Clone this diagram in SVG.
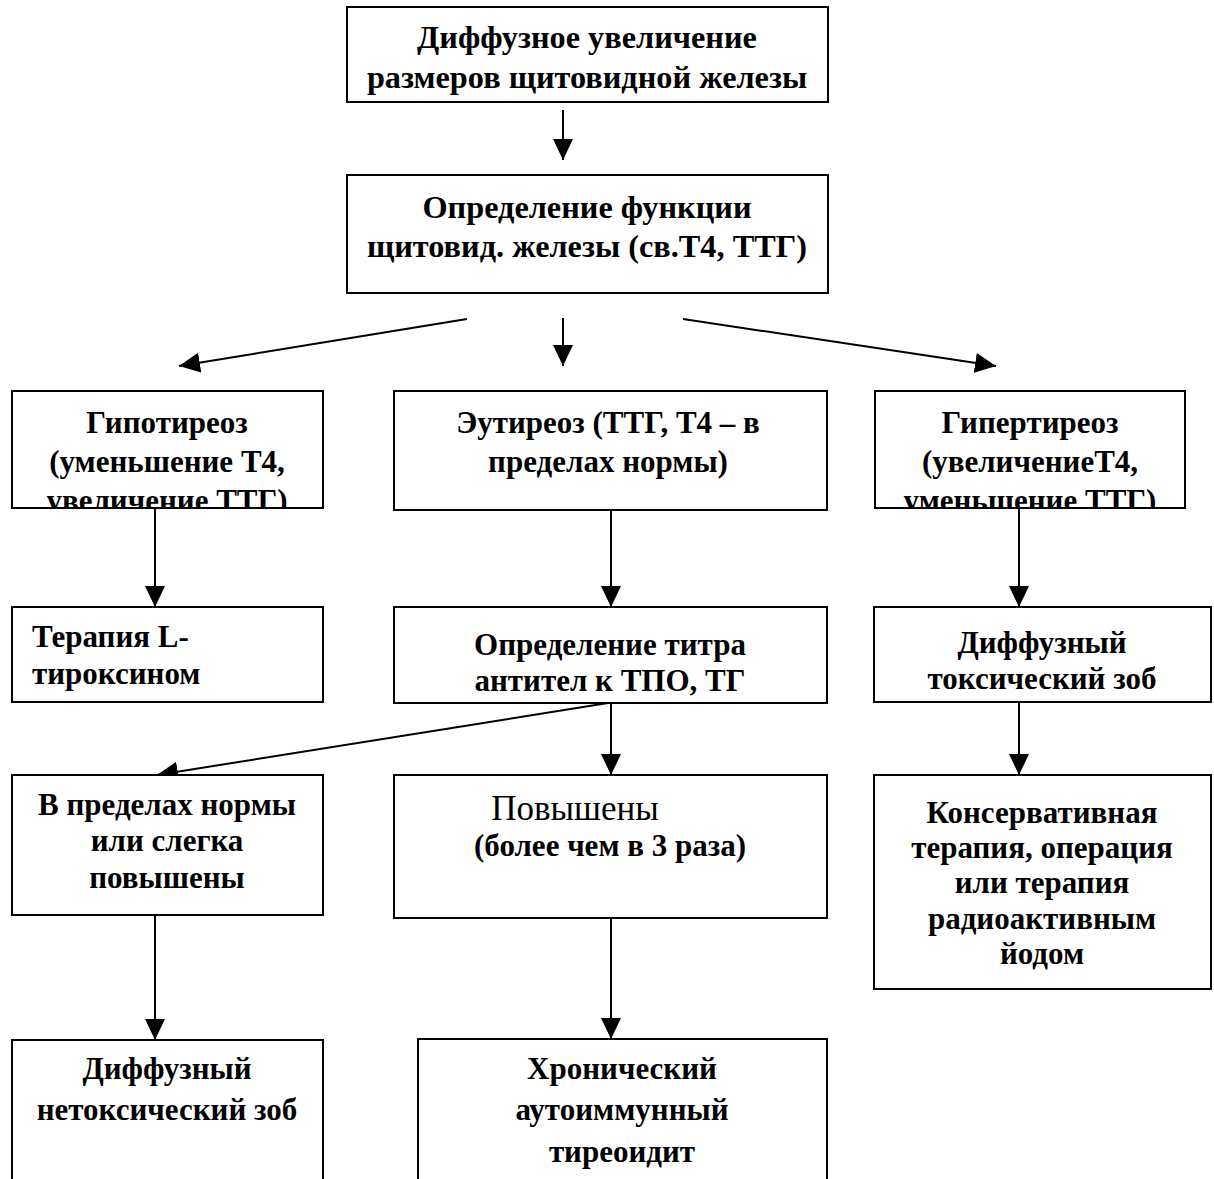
<svg xmlns="http://www.w3.org/2000/svg" width="1214" height="1179" viewBox="0 0 1214 1179">
<style>
.box{fill:#fff;stroke:#000;stroke-width:2}
.t{font-family:"Liberation Serif","Times New Roman",serif;font-weight:bold;font-size:31px;fill:#000;text-anchor:middle}
.big{font-size:32.3px}
.l{text-anchor:start}
.r{font-weight:normal;font-size:35px}
.c line{stroke:#000;stroke-width:2;marker-end:url(#ah)}
</style>
<defs>
<marker id="ah" markerUnits="userSpaceOnUse" markerWidth="21" markerHeight="20" refX="21" refY="10" orient="auto" viewBox="0 0 21 20">
<path d="M0,0 L21,10 L0,20 z" fill="#000"/>
</marker>
<clipPath id="cHypo"><rect x="13" y="392" width="309" height="115"/></clipPath>
<clipPath id="cHyper"><rect x="876" y="392" width="308" height="115"/></clipPath>
</defs>
<rect width="1214" height="1179" fill="#fff"/>
<g class="c" id="connectors">
<line x1="563" y1="110" x2="563" y2="160"/>
<line x1="563" y1="318" x2="563" y2="366"/>
<line x1="467" y1="319" x2="179" y2="366"/>
<line x1="683" y1="319" x2="996" y2="366"/>
<line x1="155" y1="508" x2="155" y2="607"/>
<line x1="611" y1="510" x2="611" y2="607"/>
<line x1="1019" y1="508" x2="1019" y2="607"/>
<line x1="611" y1="703" x2="611" y2="775"/>
<line x1="608" y1="703" x2="157" y2="775"/>
<line x1="1019" y1="702" x2="1019" y2="775"/>
<line x1="155" y1="915" x2="155" y2="1040"/>
<line x1="611" y1="918" x2="611" y2="1039"/>
</g>
<g id="n1"><rect class="box" x="347" y="7" width="481" height="95"/>
<text class="t big" x="587" y="48">Диффузное увеличение</text>
<text class="t big" x="587" y="88">размеров щитовидной железы</text></g>
<g id="n2"><rect class="box" x="347" y="175" width="481" height="118"/>
<text class="t big" x="587" y="218">Определение функции</text>
<text class="t big" x="587" y="257">щитовид. железы (св.Т4, ТТГ)</text></g>
<g id="n3"><rect class="box" x="12" y="391" width="311" height="117"/>
<g clip-path="url(#cHypo)">
<text class="t" x="167" y="433">Гипотиреоз</text>
<text class="t" x="167" y="472">(уменьшение Т4,</text>
<text class="t" x="167" y="511">увеличение ТТГ)</text></g></g>
<g id="n4"><rect class="box" x="394" y="391" width="433" height="119"/>
<text class="t" x="608" y="433">Эутиреоз (ТТГ, Т4 – в</text>
<text class="t" x="608" y="472">пределах нормы)</text></g>
<g id="n5"><rect class="box" x="875" y="391" width="310" height="117"/>
<g clip-path="url(#cHyper)">
<text class="t" x="1030" y="433">Гипертиреоз</text>
<text class="t" x="1030" y="472">(увеличениеТ4,</text>
<text class="t" x="1030" y="511">уменьшение ТТГ)</text></g></g>
<g id="n6"><rect class="box" x="12" y="607" width="311" height="95"/>
<text class="t l" x="32" y="647">Терапия L-</text>
<text class="t l" x="32" y="684">тироксином</text></g>
<g id="n7"><rect class="box" x="394" y="607" width="433" height="96"/>
<text class="t" x="610" y="655">Определение титра</text>
<text class="t" x="610" y="691">антител к ТПО, ТГ</text></g>
<g id="n8"><rect class="box" x="874" y="607" width="337" height="95"/>
<text class="t" x="1042" y="653">Диффузный</text>
<text class="t" x="1042" y="689">токсический зоб</text></g>
<g id="n9"><rect class="box" x="12" y="775" width="311" height="140"/>
<text class="t" x="167" y="815">В пределах нормы</text>
<text class="t" x="167" y="851">или слегка</text>
<text class="t" x="167" y="888">повышены</text></g>
<g id="n10"><rect class="box" x="394" y="775" width="433" height="143"/>
<text class="t r" x="575" y="820">Повышены</text>
<text class="t" x="610" y="856">(более чем в 3 раза)</text></g>
<g id="n11"><rect class="box" x="874" y="775" width="337" height="214"/>
<text class="t" x="1042" y="823">Консервативная</text>
<text class="t" x="1042" y="858">терапия, операция</text>
<text class="t" x="1042" y="893">или терапия</text>
<text class="t" x="1042" y="929">радиоактивным</text>
<text class="t" x="1042" y="964">йодом</text></g>
<g id="n12"><rect class="box" x="12" y="1040" width="311" height="150"/>
<text class="t" x="167" y="1079">Диффузный</text>
<text class="t" x="167" y="1120">нетоксический зоб</text></g>
<g id="n13"><rect class="box" x="418" y="1039" width="409" height="150"/>
<text class="t" x="622" y="1079">Хронический</text>
<text class="t" x="622" y="1120">аутоиммунный</text>
<text class="t" x="622" y="1162">тиреоидит</text></g>
</svg>
